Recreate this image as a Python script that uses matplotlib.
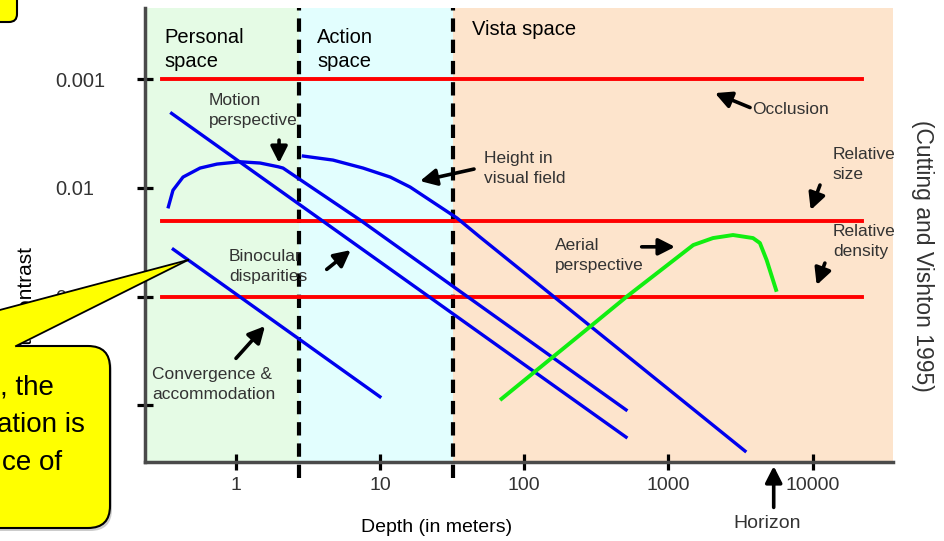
import numpy as np
import matplotlib
matplotlib.use("Agg")
import matplotlib.pyplot as plt
from matplotlib.patches import FancyBboxPatch, Polygon

plt.rcParams["font.family"] = ["Liberation Sans", "DejaVu Sans"]

# =========================
# Data (depth in meters, depth contrast)
# =========================
depth_ticks = [1, 10, 100, 1000, 10000]
depth_tick_labels = ["1", "10", "100", "1000", "10000"]
contrast_ticks = [0.001, 0.01, 0.1, 1]
contrast_tick_labels = ["0.001", "0.01", "0.1", "1.0"]

zone_bounds = [2.75, 32]          # personal | action | vista
zone_names = ["Personal\nspace", "Action\nspace", "Vista space"]

occlusion_depth = [0.31, 22000]
occlusion_contrast = [0.001, 0.001]
rel_size_depth = [0.31, 22000]
rel_size_contrast = [0.02, 0.02]
rel_density_depth = [0.31, 22000]
rel_density_contrast = [0.1, 0.1]

binocular_depth = [0.36, 508]
binocular_contrast = [0.00206, 1.96]

motion_depth = [0.342, 0.368, 0.432, 0.567, 0.743, 1.07, 1.48, 1.97, 2.13, 7.28, 508]
motion_contrast = [0.0149, 0.0105, 0.00794, 0.00656, 0.00603, 0.00574, 0.0059,
                   0.00638, 0.00656, 0.0197, 1.1]

height_depth = [2.95, 4.73, 7.64, 11.8, 16.2, 23.3, 34.2, 49.4, 3390]
height_contrast = [0.00509, 0.00554, 0.00656, 0.00794, 0.00981, 0.0135,
                   0.0189, 0.0283, 2.63]

convergence_depth = [0.37, 10.0]
convergence_contrast = [0.0367, 0.833]

aerial_depth = [68, 286, 513, 1485, 2034, 2800, 3850, 4300, 4790, 5620]
aerial_contrast = [0.894, 0.189, 0.1, 0.0335, 0.0289, 0.0271, 0.0289, 0.0321,
                   0.0461, 0.0901]

horizon_depth = 5360

# =========================
# Figure
# =========================
fig = plt.figure(figsize=(9.45, 5.41), dpi=100)
ax = fig.add_axes([145 / 945, 1 - 462 / 541, 748 / 945, 454 / 541])
ax.set_xscale("log")
ax.set_yscale("log")
ax.set_xlim(0.2355, 35970)
ax.set_ylim(3.32, 2.21e-4)

# zones
xl = ax.get_xlim()
edges = [xl[0]] + zone_bounds + [xl[1]]
zone_colors = ["#e5fbe5", "#e2fefe", "#fde4cc"]
for i, c in enumerate(zone_colors):
    ax.axvspan(edges[i], edges[i + 1], color=c, lw=0, zorder=0)
for b in zone_bounds:
    ax.axvline(b, ymin=-0.035, ymax=1, color="black", lw=3,
               linestyle=(0, (3.2, 1.9)), clip_on=False, zorder=1.5)

# red, blue, green curves
red = "#ff0000"
blue = "#0000ee"
ax.plot(occlusion_depth, occlusion_contrast, color=red, lw=2.8, zorder=2)
ax.plot(rel_size_depth, rel_size_contrast, color=red, lw=2.8, zorder=2)
ax.plot(rel_density_depth, rel_density_contrast, color=red, lw=2.8, zorder=2)
ax.plot(binocular_depth, binocular_contrast, color=blue, lw=2.4, zorder=3)
ax.plot(motion_depth, motion_contrast, color=blue, lw=2.4, zorder=3)
ax.plot(height_depth, height_contrast, color=blue, lw=2.4, zorder=3)
ax.plot(convergence_depth, convergence_contrast, color=blue, lw=2.4, zorder=3)
ax.plot(aerial_depth, aerial_contrast, color="#11ee11", lw=2.8, zorder=3,
        solid_capstyle="butt")

# axes styling
ax.spines["top"].set_visible(False)
ax.spines["right"].set_visible(False)
for s in ("left", "bottom"):
    ax.spines[s].set_color("#4a4a4a")
    ax.spines[s].set_linewidth(2.5)
    ax.spines[s].set_zorder(5)

ax.set_xticks(depth_ticks)
ax.set_xticklabels(depth_tick_labels)
ax.set_yticks(contrast_ticks)
ax.set_yticklabels(contrast_tick_labels)
ax.minorticks_off()
ax.tick_params(axis="x", direction="inout", length=11, width=2.3, color="black",
               labelsize=14, labelcolor="#333333", pad=5)
ax.tick_params(axis="y", direction="inout", length=12, width=2.3, color="black",
               labelsize=14.5, labelcolor="#333333", pad=58.8)
for lab in ax.get_yticklabels():
    lab.set_horizontalalignment("left")

ax.text(0.39, -0.145, "Depth (in meters)", transform=ax.transAxes,
        ha="center", va="center", fontsize=14, color="black")
ax.text(-0.158, 0.324, "Depth contrast", transform=ax.transAxes, rotation=90,
        ha="center", va="center", fontsize=15, color="black")
ax.text(1.04, 0.454, "(Cutting and Vishton 1995)", transform=ax.transAxes,
        rotation=-90, ha="center", va="center", fontsize=16.5, color="#333333")

# zone labels
ax.text(0.319, 5.33e-4, zone_names[0], fontsize=14.5, ha="left", va="center",
        linespacing=1.3)
ax.text(3.67, 5.33e-4, zone_names[1], fontsize=14.5, ha="left", va="center",
        linespacing=1.3)
ax.text(43.5, 3.5e-4, zone_names[2], fontsize=14.5, ha="left", va="center")

# annotations: (text, text pos, arrow tail, arrow head)
arrow_kw = dict(arrowstyle="-|>,head_length=0.55,head_width=0.28", lw=2.6,
                color="black", mutation_scale=18, shrinkA=0, shrinkB=0)
notes = [
    ("Motion\nperspective", (0.654, 0.00192), (2.0, 0.00363), (2.0, 0.00589)),
    ("Height in\nvisual field", (52.6, 0.00656), (44.9, 0.0067), (18.97, 0.00864)),
    ("Occlusion", (3786, 0.00188), (3675, 0.00182), (2100, 0.00134)),
    ("Relative\nsize", (13800, 0.00603), (11220, 0.0094), (9673, 0.01596)),
    ("Relative\ndensity", (13800, 0.0311), (12130, 0.0491), (10640, 0.0782)),
    ("Aerial\nperspective", (163.5, 0.0414), (652, 0.0348), (1109, 0.0348)),
    ("Binocular\ndisparities", (0.90, 0.0523), (4.28, 0.0561), (6.276, 0.0373)),
    ("Convergence &\naccommodation", (0.2626, 0.637), (1.006, 0.3695), (1.598, 0.1865)),
]
for txt, tpos, tail, head in notes:
    ax.text(tpos[0], tpos[1], txt, fontsize=12.5, color="#333333", ha="left",
            va="center", linespacing=1.42, zorder=6)
    ax.annotate("", xy=head, xytext=tail, arrowprops=arrow_kw, zorder=6)

xt = ax.get_xaxis_transform()
ax.annotate("", xy=(horizon_depth, -0.009), xytext=(horizon_depth, -0.1),
            xycoords=xt, textcoords=xt, arrowprops=arrow_kw, annotation_clip=False)
ax.text(4816, -0.135, "Horizon", transform=xt, ha="center", va="center",
        fontsize=14, color="#333333")

# =========================
# Slide overlay: yellow callouts
# =========================
ov = fig.add_axes([0, 0, 1, 1], zorder=10)
ov.set_xlim(0, 945)
ov.set_ylim(541, 0)
ov.axis("off")
ov.patch.set_alpha(0)

yellow = "#ffff00"
ov.add_patch(FancyBboxPatch((-40, 349), 152, 182, boxstyle="round,pad=0,rounding_size=22",
                            fc="#9a9a9a", ec="none", alpha=0.5))
ov.add_patch(FancyBboxPatch((-40, 346), 150, 182, boxstyle="round,pad=0,rounding_size=22",
                            fc=yellow, ec="black", lw=1.5))
ov.add_patch(Polygon([(188, 260), (-10, 312.6), (-10, 349), (14, 349), (16, 346)],
                     closed=True, fc=yellow, ec="none"))
ov.plot([188, -10], [260, 312.6], color="black", lw=1.3)
ov.plot([188, 16], [260, 346], color="black", lw=1.3)
ov.add_patch(FancyBboxPatch((-40, -40), 57, 62, boxstyle="round,pad=0,rounding_size=8",
                            fc=yellow, ec="black", lw=1.5))

for txt, x, y in [(", the", 0, 387), ("ation is", -3, 425), ("ce of", 2, 463)]:
    ov.text(x, y, txt, fontsize=20, color="black", ha="left", va="center")

fig.savefig("out.png", dpi=100)
